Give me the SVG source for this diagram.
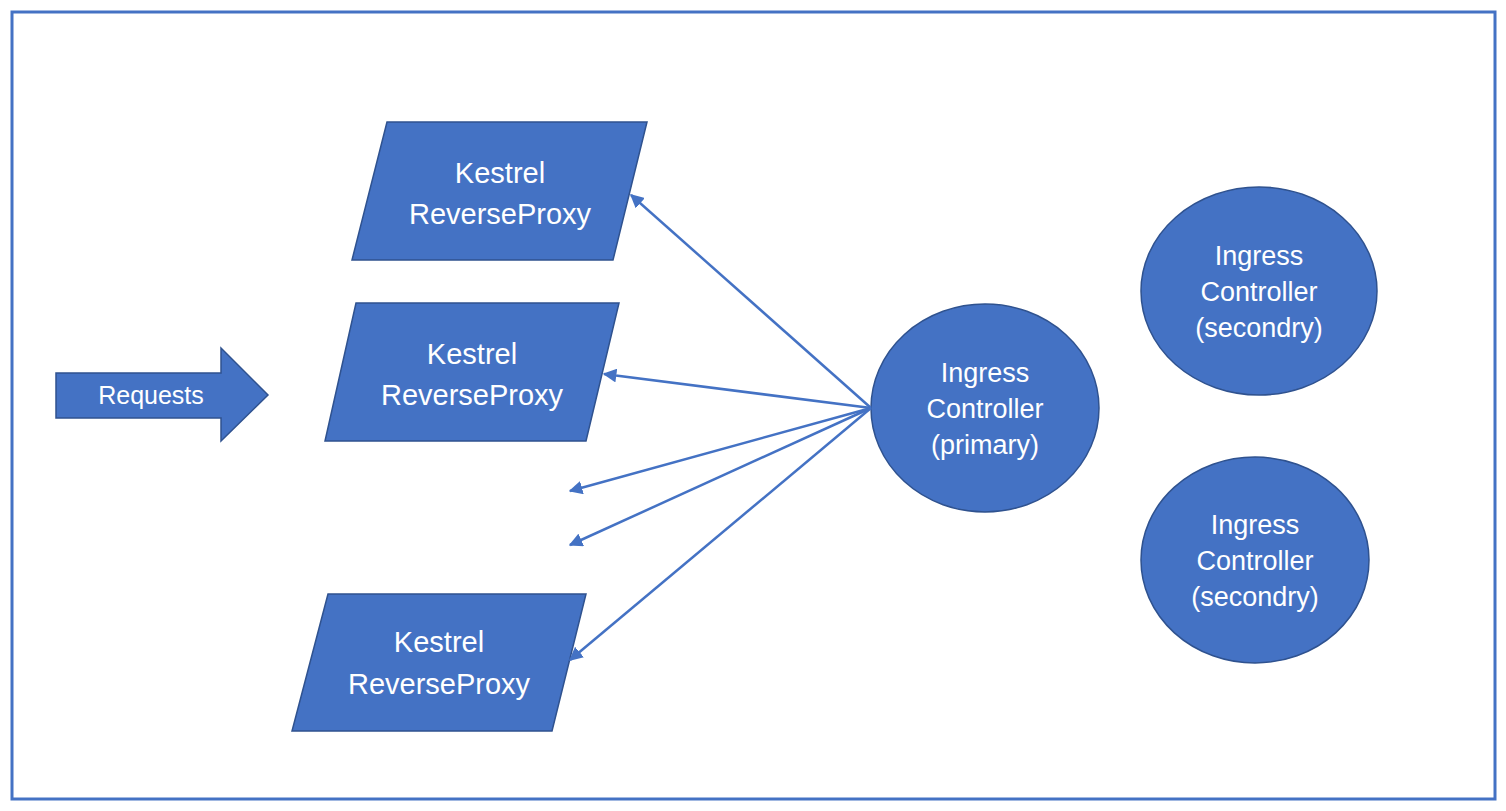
<svg xmlns="http://www.w3.org/2000/svg" width="1506" height="811" viewBox="0 0 1506 811">
<style>
.shape{fill:#4472C4;stroke:#2F528F;stroke-width:1.5}
.t{font-family:"Liberation Sans",Arial,sans-serif;fill:#ffffff;text-anchor:middle}
.k{font-size:29px}
.i{font-size:27px}
.c{stroke:#4472C4;stroke-width:2.5;fill:none;marker-end:url(#ah)}
</style>
<defs>
<marker id="ah" viewBox="0 0 10 10" refX="9" refY="5" markerWidth="5.5" markerHeight="5.5" orient="auto" markerUnits="strokeWidth">
<path d="M0,0 L10,5 L0,10 z" fill="#4472C4"/>
</marker>
</defs>
<rect x="0" y="0" width="1506" height="811" fill="#ffffff"/>
<rect x="12" y="12" width="1483" height="787" fill="none" stroke="#4472C4" stroke-width="3"/>
<g id="requests">
<path class="shape" d="M56,373 L221,373 L221,348 L268,395 L221,441 L221,418 L56,418 Z"/>
<text class="t" x="151" y="404" font-size="25">Requests</text>
</g>
<g id="kestrel1">
<path class="shape" d="M387,122 L647,122 L613,260 L352,260 Z"/>
<text class="t k" x="500" y="183">Kestrel</text>
<text class="t k" x="500" y="224">ReverseProxy</text>
</g>
<g id="kestrel2">
<path class="shape" d="M356,303 L619,303 L586,441 L325,441 Z"/>
<text class="t k" x="472" y="364">Kestrel</text>
<text class="t k" x="472" y="405">ReverseProxy</text>
</g>
<g id="kestrel3">
<path class="shape" d="M328,594 L586,594 L552,731 L292,731 Z"/>
<text class="t k" x="439" y="652">Kestrel</text>
<text class="t k" x="439" y="694">ReverseProxy</text>
</g>
<g id="ingress-primary">
<ellipse class="shape" cx="985" cy="408" rx="114" ry="104"/>
<text class="t i" x="985" y="382">Ingress</text>
<text class="t i" x="985" y="418">Controller</text>
<text class="t i" x="985" y="454">(primary)</text>
</g>
<g id="ingress-secondary1">
<ellipse class="shape" cx="1259" cy="291" rx="118" ry="104"/>
<text class="t i" x="1259" y="265">Ingress</text>
<text class="t i" x="1259" y="301">Controller</text>
<text class="t i" x="1259" y="337">(secondry)</text>
</g>
<g id="ingress-secondary2">
<ellipse class="shape" cx="1255" cy="560" rx="114" ry="103"/>
<text class="t i" x="1255" y="534">Ingress</text>
<text class="t i" x="1255" y="570">Controller</text>
<text class="t i" x="1255" y="606">(secondry)</text>
</g>
<g id="connectors">
<line class="c" x1="871" y1="408" x2="631" y2="195"/>
<line class="c" x1="871" y1="408" x2="604" y2="374"/>
<line class="c" x1="871" y1="408" x2="570" y2="491"/>
<line class="c" x1="871" y1="408" x2="570" y2="545"/>
<line class="c" x1="871" y1="408" x2="570" y2="660"/>
</g>
</svg>
